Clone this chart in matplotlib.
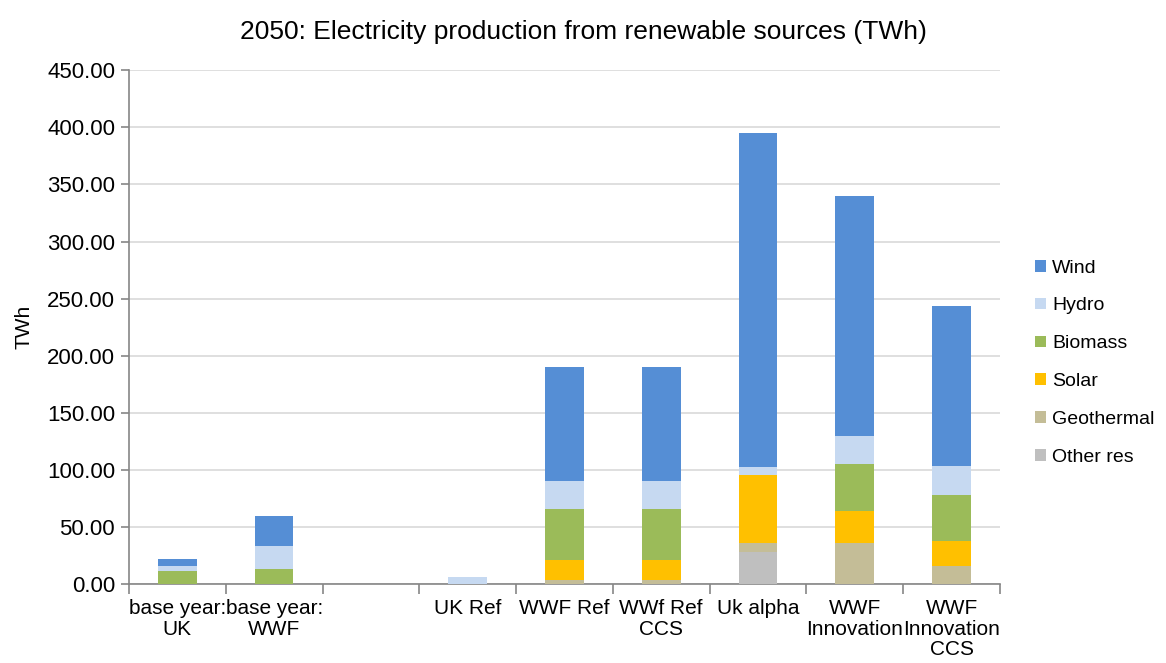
import matplotlib.pyplot as plt
import numpy as np

plt.rcParams['font.family'] = ['Liberation Sans', 'DejaVu Sans']

# scenarios (third slot is empty in the original sheet)
categories = ["base year:\nUK", "base year:\nWWF", "", "UK Ref", "WWF Ref",
              "WWf Ref\nCCS", "Uk alpha", "WWF\nInnovation", "WWF\nInnovation\nCCS"]

# TWh per source
other_res = [0, 0, 0, 0, 0, 0, 28.3, 0, 0]
geothermal = [0, 0, 0, 0, 3.5, 3.5, 7.3, 35.6, 15.5]
solar = [0, 0, 0, 0, 18.0, 18.0, 60.0, 28.3, 22.0]
biomass = [11.7, 13.0, 0, 0, 44.0, 44.0, 0, 41.0, 40.5]
hydro = [4.1, 20.0, 0, 6.0, 25.0, 25.0, 7.3, 24.8, 25.0]
wind = [5.8, 27.0, 0, 0, 100.0, 100.0, 292.0, 210.0, 140.5]

series = [("Other res", other_res, "#BFBFBF"),
          ("Geothermal", geothermal, "#C4BD97"),
          ("Solar", solar, "#FFC000"),
          ("Biomass", biomass, "#9BBB59"),
          ("Hydro", hydro, "#C6D9F1"),
          ("Wind", wind, "#558ED5")]

fig = plt.figure(figsize=(11.66, 6.63), dpi=100)
ax = fig.add_axes([0.1106, 0.119, 0.747, 0.775])

x = np.arange(len(categories))
bottom = np.zeros(len(categories))
handles = []
for name, vals, col in series:
    b = ax.bar(x, vals, width=0.4, bottom=bottom, color=col, label=name,
               edgecolor='none', zorder=3)
    handles.append(b)
    bottom += np.array(vals)

ax.set_xlim(-0.5, len(categories) - 0.5)
ax.set_ylim(0, 450)
ax.set_yticks(np.arange(0, 451, 50))
ax.set_yticklabels(["%.2f" % v for v in np.arange(0, 451, 50)], fontsize=16)
ax.yaxis.grid(True, color='#D9D9D9', linewidth=1.2, zorder=0)

# category labels centred, ticks on the boundaries
ax.set_xticks(x)
ax.set_xticklabels(categories, fontsize=15, linespacing=1.08)
ax.tick_params(axis='x', length=0, pad=11)
ax.set_xticks(np.arange(-0.5, len(categories), 1), minor=True)
ax.tick_params(axis='x', which='minor', length=7, color='#868686', width=1.2)
ax.tick_params(axis='y', length=6, color='#868686', width=1.2, pad=4)

for s in ['top', 'right']:
    ax.spines[s].set_visible(False)
for s in ['left', 'bottom']:
    ax.spines[s].set_color('#868686')
    ax.spines[s].set_linewidth(1.2)

ax.set_ylabel("TWh", fontsize=15, labelpad=10)
fig.suptitle("2050: Electricity production from renewable sources (TWh)",
             fontsize=19, y=0.97)

fig.legend(handles[::-1], [h.get_label() for h in handles[::-1]],
           loc='center left', bbox_to_anchor=(0.873, 0.453), frameon=False,
           fontsize=14, handlelength=0.55, handleheight=0.55, handletextpad=0.3,
           labelspacing=1.07)

fig.savefig("out.png", dpi=100)
